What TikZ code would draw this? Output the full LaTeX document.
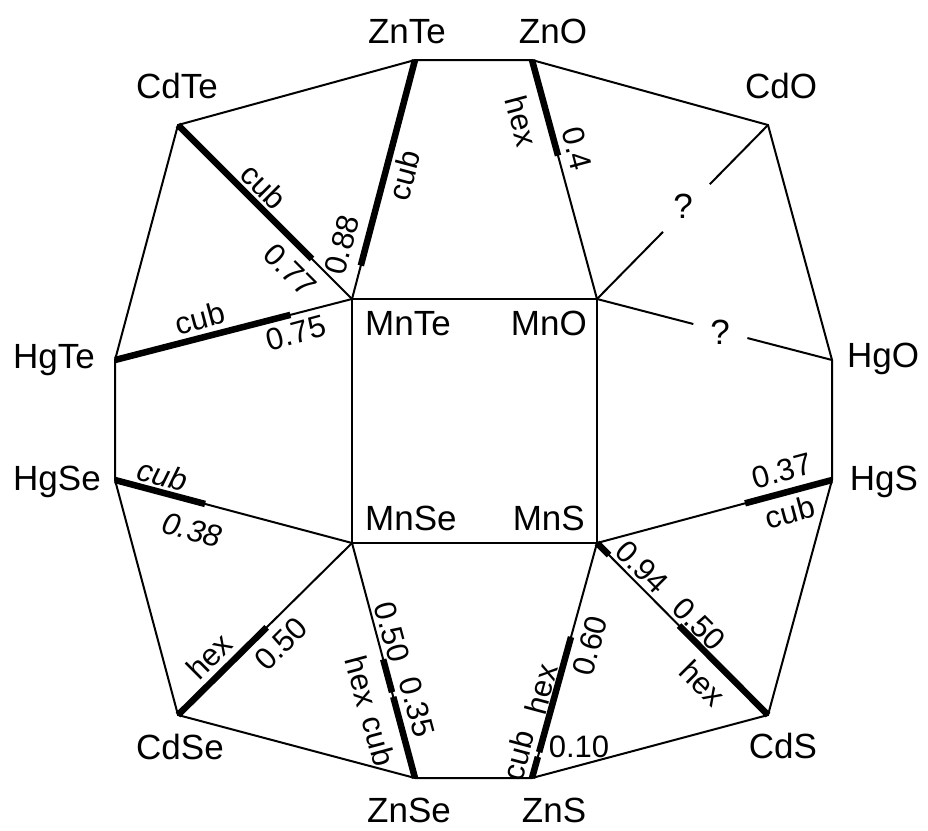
\documentclass[tikz,border=0pt]{standalone}
\usepackage{fontspec}
\setmainfont{Liberation Sans}
\usetikzlibrary{calc}
\begin{document}
\begin{tikzpicture}[x=1pt,y=-1pt,
  wire/.style={line width=2pt},
  heavy/.style={line width=6.5pt},
  vlabel/.style={font=\fontsize{35}{40}\selectfont, anchor=base, inner sep=0pt},
  mlabel/.style={font=\fontsize{35}{40}\selectfont, inner sep=0pt},
  elabel/.style={font=\fontsize{31}{36}\selectfont, inner sep=0pt},
  ilabel/.style={font=\fontsize{31}{36}\selectfont\itshape, inner sep=0pt}]
\useasboundingbox (0,0) rectangle (928,830);
% vertices
\coordinate (ZnTe) at (415,60);
\coordinate (ZnO) at (532,60);
\coordinate (CdO) at (768,125);
\coordinate (HgO) at (832,360);
\coordinate (HgS) at (832,480);
\coordinate (CdS) at (768,715);
\coordinate (ZnS) at (532,778);
\coordinate (ZnSe) at (415,778);
\coordinate (CdSe) at (178,715);
\coordinate (HgSe) at (115,480);
\coordinate (HgTe) at (115,360);
\coordinate (CdTe) at (178,125);
\coordinate (MnTe) at (352,299);
\coordinate (MnO) at (597,299);
\coordinate (MnS) at (597,543);
\coordinate (MnSe) at (352,543);
% outer polygon and inner square
\draw[wire] (ZnTe) -- (ZnO) -- (CdO) -- (HgO) -- (HgS) -- (CdS) -- (ZnS) -- (ZnSe) -- (CdSe) -- (HgSe) -- (HgTe) -- (CdTe) -- cycle;
\draw[wire] (MnTe) -- (MnO) -- (MnS) -- (MnSe) -- cycle;
% spokes
\draw[wire] (MnTe) -- (CdTe);
\draw[wire] (MnTe) -- (ZnTe);
\draw[wire] (MnTe) -- (HgTe);
\draw[wire] (MnO) -- (ZnO);
\draw[wire] (MnO) -- ($(MnO)!0.386!(CdO)$);
\draw[wire] ($(MnO)!0.66!(CdO)$) -- (CdO);
\draw[wire] (MnO) -- ($(MnO)!0.41!(HgO)$);
\draw[wire] ($(MnO)!0.64!(HgO)$) -- (HgO);
\draw[wire] (MnS) -- (HgS);
\draw[wire] (MnS) -- (CdS);
\draw[wire] (MnS) -- (ZnS);
\draw[wire] (MnSe) -- (HgSe);
\draw[wire] (MnSe) -- (CdSe);
\draw[wire] (MnSe) -- (ZnSe);
% heavy segments
\draw[heavy] (CdTe) -- ($(CdTe)!0.77!(MnTe)$);
\draw[heavy] (ZnTe) -- ($(ZnTe)!0.86!(MnTe)$);
\draw[heavy] (HgTe) -- ($(HgTe)!0.74!(MnTe)$);
\draw[heavy] (HgSe) -- ($(HgSe)!0.38!(MnSe)$);
\draw[heavy] (ZnO) -- ($(ZnO)!0.4!(MnO)$);
\draw[heavy] (CdSe) -- ($(CdSe)!0.51!(MnSe)$);
\draw[heavy] (HgS) -- ($(HgS)!0.37!(MnS)$);
\draw[heavy] (CdS) -- ($(CdS)!0.52!(MnS)$);
\draw[heavy] (MnS) -- ($(MnS)!0.07!(CdS)$);
\draw[heavy] (ZnSe) -- ($(ZnSe)!0.345!(MnSe)$);
\draw[heavy] ($(ZnSe)!0.365!(MnSe)$) -- ($(ZnSe)!0.505!(MnSe)$);
\draw[heavy] (ZnS) -- ($(ZnS)!0.09!(MnS)$);
\draw[heavy] ($(ZnS)!0.11!(MnS)$) -- ($(ZnS)!0.60!(MnS)$);
% vertex labels
\node[vlabel] (tZnTe) at (407,43) {ZnTe};
\node[vlabel] (tZnO) at (553,43) {ZnO};
\node[vlabel] (tCdTe) at (177,98) {CdTe};
\node[vlabel] (tCdO) at (781,98) {CdO};
\node[vlabel] (tHgTe) at (54,368) {HgTe};
\node[vlabel] (tHgSe) at (57,490) {HgSe};
\node[vlabel] (tHgO) at (883,367) {HgO};
\node[vlabel] (tHgS) at (884,490) {HgS};
\node[vlabel] (tCdSe) at (180,759) {CdSe};
\node[vlabel] (tZnSe) at (409,822) {ZnSe};
\node[vlabel] (tZnS) at (554,822) {ZnS};
\node[vlabel] (tCdS) at (783,758) {CdS};
\node[vlabel, anchor=base west] (tMnTe) at (365,335) {MnTe};
\node[vlabel, anchor=base east] (tMnO) at (587,335) {MnO};
\node[vlabel, anchor=base west] (tMnSe) at (365,530) {MnSe};
\node[vlabel, anchor=base east] (tMnS) at (585,530) {MnS};
% question marks
\node[mlabel] (q1) at (683,206) {?};
\node[mlabel] (q2) at (720,332) {?};
% edge labels
\node[elabel, rotate=-45] (l1) at (264,186) {cub};
\node[elabel, rotate=-45] (l2) at (290,270) {0.77};
\node[elabel, rotate=75] (l3) at (404,175) {cub};
\node[elabel, rotate=75] (l4) at (342,245) {0.88};
\node[elabel, rotate=-75] (l5) at (522,121) {hex};
\node[elabel, rotate=-75] (l6) at (577,149) {0.4};
\node[elabel, rotate=15] (l7) at (200,318) {cub};
\node[elabel, rotate=15] (l8) at (296,333) {0.75};
\node[ilabel, rotate=-15] (l9) at (163,475) {cub};
\node[ilabel, rotate=-15] (l10) at (192,530) {0.38};
\node[elabel, rotate=45] (l11) at (209,656) {hex};
\node[elabel, rotate=45] (l12) at (281,644) {0.50};
\node[elabel, rotate=-75] (l13) at (392,632) {0.50};
\node[elabel, rotate=-75] (l14) at (362,681) {hex};
\node[elabel, rotate=-75] (l15) at (379,741) {cub};
\node[elabel, rotate=-75] (l16) at (417,707) {0.35};
\node[elabel, rotate=75] (l17) at (590,646) {0.60};
\node[elabel, rotate=75] (l18) at (541,689) {hex};
\node[elabel, rotate=75] (l19) at (518,755) {cub};
\node[elabel] (l20) at (579,747) {0.10};
\node[elabel, rotate=-45] (l21) at (642,567) {0.94};
\node[elabel, rotate=-45] (l22) at (699,624) {0.50};
\node[elabel, rotate=-45] (l23) at (703,683) {hex};
\node[elabel, rotate=15] (l24) at (782,471) {0.37};
\node[elabel, rotate=15] (l25) at (790,512) {cub};
\end{tikzpicture}
\end{document}
